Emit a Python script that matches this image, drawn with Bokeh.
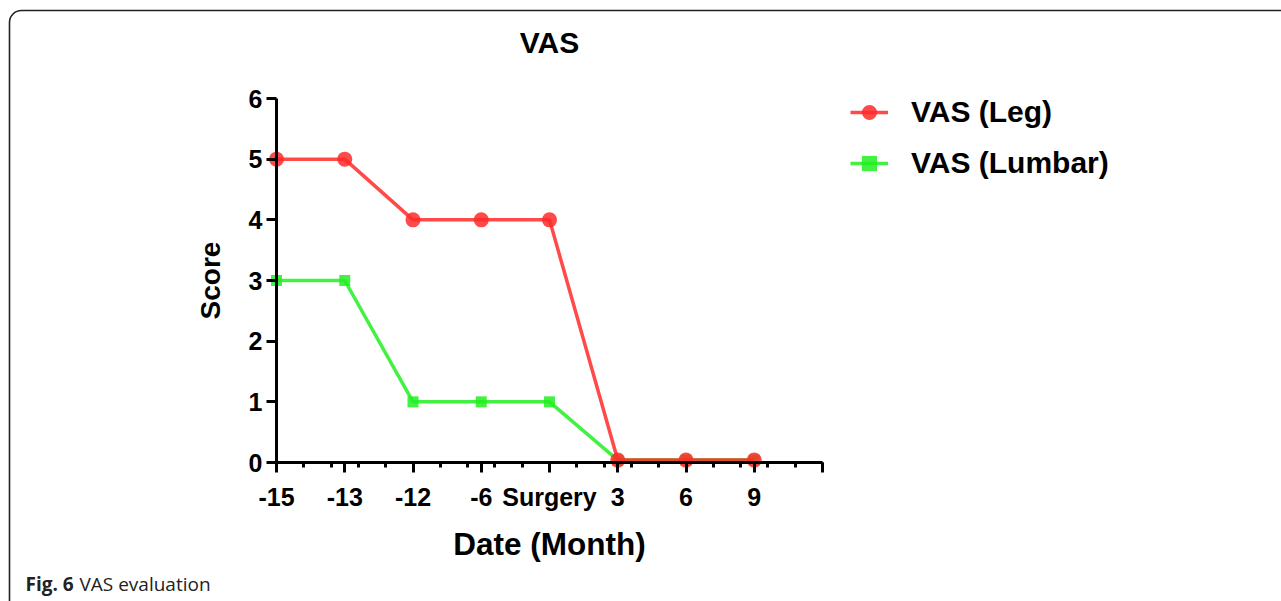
from bokeh.plotting import figure
from bokeh.models import Label, Legend, LegendItem, FixedTicker, BoxAnnotation
from bokeh.embed import file_html
from bokeh.resources import INLINE

# ---- data ----
categories = ["-15", "-13", "-12", "-6", "Surgery", "3", "6", "9"]
vas_leg = [5, 5, 4, 4, 4, 0.04, 0.04, 0.04]
vas_lumbar = [3, 3, 1, 1, 1, 0.04, 0.04, 0.04]
y_ticks = [0, 1, 2, 3, 4, 5, 6]

# ---- geometry (picture pixels) ----
W, H = 1281, 601
X0_PAGE, X_PX = 276, 68.25        # picture x of index 0, px per index
Y0_PAGE, Y_PX = 462, 364 / 6      # picture y of score 0, px per score

def px2x(px):
    return (px - X0_PAGE) / X_PX

def py2y(py):
    return (Y0_PAGE - py) / Y_PX

xs = list(range(len(categories)))

p = figure(width=W, height=H, output_backend="svg", toolbar_location=None,
           x_range=(px2x(0), px2x(W)), y_range=(py2y(H), py2y(0)),
           min_border_left=0, min_border_right=0, min_border_top=0, min_border_bottom=0)
p.outline_line_color = None
p.grid.visible = False
p.background_fill_color = "white"
p.border_fill_color = "white"

# frame around figure
p.add_layout(BoxAnnotation(left=px2x(9), right=px2x(1400), top=py2y(10), bottom=py2y(800),
                           fill_color=None, fill_alpha=0, line_color="#222222", line_alpha=1,
                           line_width=1.6, border_radius=12, level="underlay"))

FONT = "Liberation Sans"

# axes
xa = p.xaxis[0]
xa.fixed_location = 0
xa.bounds = (0, 8)
xa.ticker = FixedTicker(ticks=xs + [8], minor_ticks=[i * 0.4 for i in range(21)])
xa.major_label_overrides = {i: c for i, c in enumerate(categories)} | {8: ""}
ya = p.yaxis[0]
ya.fixed_location = 0
ya.bounds = (0, 6)
ya.ticker = FixedTicker(ticks=y_ticks, minor_ticks=[])
for ax in (xa, ya):
    ax.axis_line_width = 3
    ax.axis_line_color = "black"
    ax.major_tick_line_width = 3
    ax.minor_tick_line_width = 3
    ax.major_tick_in = 0
    ax.minor_tick_in = 0
    ax.major_tick_out = 10
    ax.major_label_text_font = FONT
    ax.major_label_text_font_style = "bold"
    ax.major_label_text_font_size = "25px"
    ax.major_label_text_color = "black"
xa.minor_tick_out = 5
xa.major_label_standoff = 10
ya.minor_tick_out = 0
ya.major_label_standoff = 4

# series
g_line = p.line(xs, vas_lumbar, line_color="#22EE22", line_width=3.5, line_alpha=0.85)
g_pts = p.scatter(xs, vas_lumbar, marker="square", size=11, fill_color="#22EE22",
                  line_color=None, fill_alpha=0.85)
r_line = p.line(xs, vas_leg, line_color="#FF2A2A", line_width=3.5, line_alpha=0.85)
r_pts = p.scatter(xs, vas_leg, marker="circle", size=15, fill_color="#FF2A2A",
                  line_color=None, fill_alpha=0.85)

legend = Legend(items=[LegendItem(label="VAS (Leg)", renderers=[r_line, r_pts]),
                       LegendItem(label="VAS (Lumbar)", renderers=[g_line, g_pts])],
                location=(850, H - 183), orientation="vertical",
                glyph_width=38, glyph_height=40, spacing=11, padding=0, margin=0,
                label_standoff=23, border_line_color=None, background_fill_alpha=0,
                label_text_font=FONT, label_text_font_style="bold",
                label_text_font_size="30px", label_text_color="black")
p.add_layout(legend, "center")

# title, axis titles, caption
p.add_layout(Label(x=4, y=py2y(42), text="VAS", text_align="center", text_baseline="middle",
                   text_font=FONT, text_font_style="bold", text_font_size="30px",
                   text_color="black"))
p.add_layout(Label(x=4, y=py2y(543), text="Date (Month)", text_align="center",
                   text_baseline="middle", text_font=FONT, text_font_style="bold",
                   text_font_size="31.5px", text_color="black"))
p.add_layout(Label(x=px2x(210), y=3, text="Score", text_align="center", text_baseline="middle",
                   angle=1.5707963, text_font=FONT, text_font_style="bold",
                   text_font_size="28px", text_color="black"))
p.add_layout(Label(x=px2x(25), y=py2y(583), text="Fig. 6", text_align="left",
                   text_baseline="middle", text_font="Open Sans", text_font_style="bold",
                   text_font_size="19px", text_color="#222222"))
p.add_layout(Label(x=px2x(79), y=py2y(583), text="VAS evaluation", text_align="left",
                   text_baseline="middle", text_font="Open Sans",
                   text_font_size="19px", text_color="#222222"))

open("out.html", "w").write(file_html(p, INLINE))
